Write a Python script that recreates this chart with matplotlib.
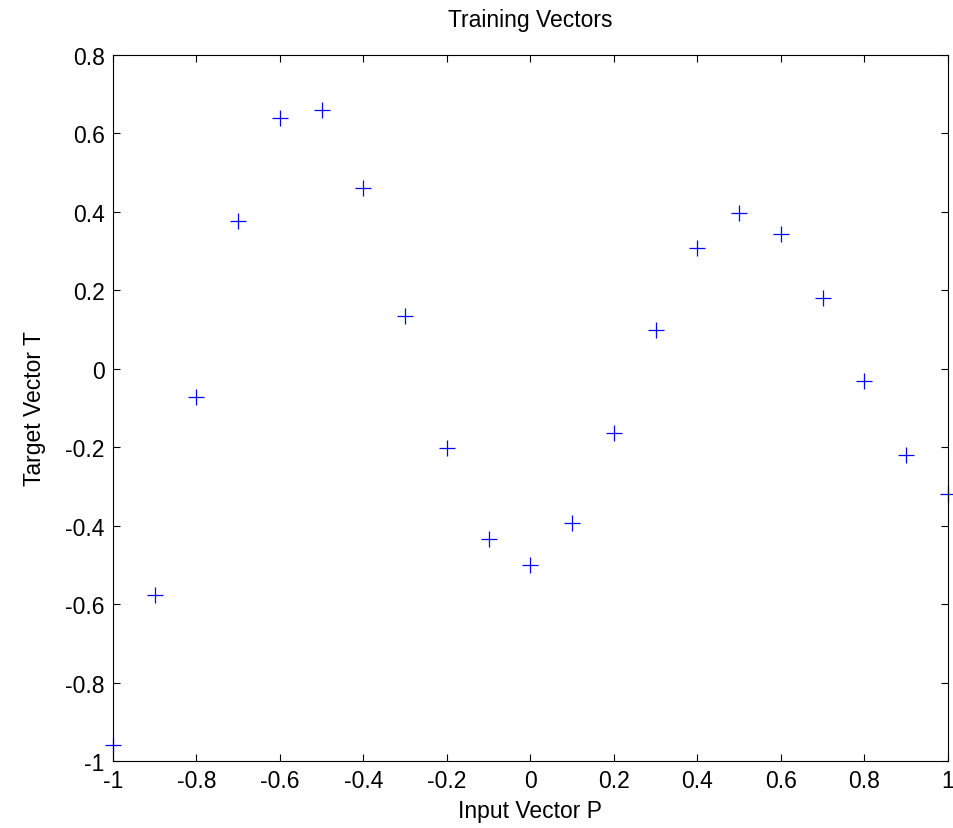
import matplotlib
matplotlib.use("Agg")
import matplotlib.pyplot as plt
from matplotlib.ticker import FuncFormatter

# Training set: input vector P and target vector T
P = [-1.0, -0.9, -0.8, -0.7, -0.6, -0.5, -0.4, -0.3, -0.2, -0.1, 0.0,
     0.1, 0.2, 0.3, 0.4, 0.5, 0.6, 0.7, 0.8, 0.9, 1.0]
T = [-0.9602, -0.5770, -0.0729, 0.3771, 0.6405, 0.6600, 0.4609, 0.1336,
     -0.2013, -0.4344, -0.5000, -0.3930, -0.1647, 0.0988, 0.3072, 0.3960,
     0.3449, 0.1816, -0.0312, -0.2189, -0.3201]

x_ticks = [-1, -0.8, -0.6, -0.4, -0.2, 0, 0.2, 0.4, 0.6, 0.8, 1]
y_ticks = [-1, -0.8, -0.6, -0.4, -0.2, 0, 0.2, 0.4, 0.6, 0.8]

plt.rcParams['font.family'] = ['Liberation Sans', 'DejaVu Sans']

fig = plt.figure(figsize=(9.54, 8.29), dpi=100)
ax = fig.add_axes([0.1184, 0.0808, 0.8753, 0.8516])

ax.plot(P, T, linestyle='none', marker='+', color='#0000ff',
        markersize=11.5, markeredgewidth=0.9, clip_on=False)

ax.set_xlim(-1, 1)
ax.set_ylim(-1, 0.8)
ax.set_xticks(x_ticks)
ax.set_yticks(y_ticks)
fmt = FuncFormatter(lambda v, pos: ('%g' % round(v, 2)).replace('\u2212', '-'))
ax.xaxis.set_major_formatter(fmt)
ax.yaxis.set_major_formatter(fmt)

ax.tick_params(direction='in', length=5, width=0.8, top=True, right=True,
               labelsize=16.5, pad=6, color='black')
for s in ax.spines.values():
    s.set_linewidth(0.8)
    s.set_color('black')

ax.set_title('Training Vectors', fontsize=16.5, pad=21)
ax.set_xlabel('Input Vector P', fontsize=16.5, labelpad=5)
ax.set_ylabel('Target Vector T', fontsize=16.5, labelpad=14)

fig.savefig('out.png', dpi=100)
